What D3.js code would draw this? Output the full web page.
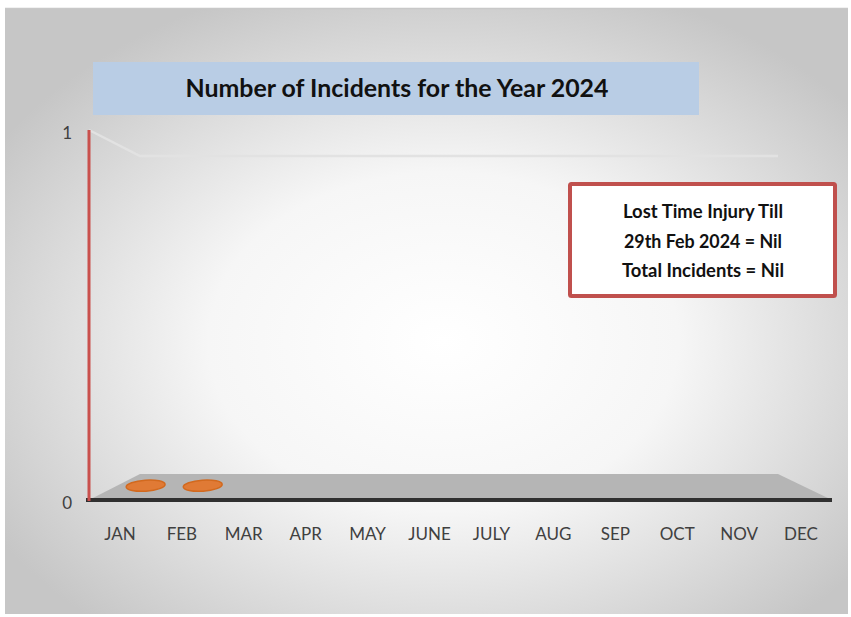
<!DOCTYPE html>
<html><head><meta charset="utf-8">
<script src="https://cdn.jsdelivr.net/npm/d3@7"></script>
<style>body{margin:0;background:#fff}svg{display:block}</style>
</head><body><svg id="c" width="851" height="617"></svg>
<script>
const months = ["JAN","FEB","MAR","APR","MAY","JUNE","JULY","AUG","SEP","OCT","NOV","DEC"];
const incidents = [0,0,null,null,null,null,null,null,null,null,null,null];
const yTicks = [0,1];
const titleText = "Number of Incidents for the Year 2024";
const noteLines = ["Lost Time Injury Till","29th Feb 2024 = Nil","Total Incidents = Nil"];

const svg = d3.select("#c");
const defs = svg.append("defs");
const rg = defs.append("radialGradient").attr("id","bg").attr("cx","0.52").attr("cy","0.55").attr("r","0.62");
rg.append("stop").attr("offset","0").attr("stop-color","#ffffff");
rg.append("stop").attr("offset","0.45").attr("stop-color","#f6f6f6");
rg.append("stop").attr("offset","1").attr("stop-color","#c6c6c6");

svg.append("rect").attr("x",5).attr("y",8).attr("width",843).attr("height",606).attr("fill","url(#bg)");
svg.append("line").attr("x1",5).attr("x2",848).attr("y1",8.5).attr("y2",8.5).attr("stroke","#c8c8c8").attr("stroke-width",1.5);

const x0 = 89, x1 = 832;
const x = d3.scaleBand().domain(months).range([x0,x1]);
const y = d3.scaleLinear().domain([0,1]).range([500,130]);
const dx = 51, dy = 26, dxr = 54;

// depth-projected band scale (mid-depth of the floor)
const t = 0.55;
const xMid = d3.scaleBand().domain(months).range([x0+dx*t, x1-dxr*t]);

// gridline at 1 (back wall)
svg.append("path")
  .attr("d", `M${x0},${y(1)}L${x0+dx},${y(1)+dy}L${x1-dxr},${y(1)+dy}`)
  .attr("fill","none").attr("stroke","#e2e2e2").attr("stroke-width",2.5);

// floor
svg.append("path")
  .attr("d", `M${x0},${y(0)}L${x0+dx},${y(0)-dy}L${x1-dxr},${y(0)-dy}L${x1},${y(0)}Z`)
  .attr("fill","#b5b5b5");

// front edge
svg.append("line").attr("x1",x0-3).attr("x2",x1).attr("y1",y(0)).attr("y2",y(0))
  .attr("stroke","#303030").attr("stroke-width",4);

// y axis (red)
svg.append("line").attr("x1",x0).attr("x2",x0).attr("y1",y(1)).attr("y2",y(0)+1)
  .attr("stroke","#c9504d").attr("stroke-width",3);

// y tick labels
svg.selectAll(".yl").data(yTicks).enter().append("text")
  .attr("x",72).attr("y",d=>y(d)+9).attr("text-anchor","end")
  .attr("font-family","Lato, 'Open Sans', sans-serif").attr("font-size",17).attr("fill","#404040")
  .text(d=>d);

// markers
svg.selectAll(".pt").data(months.map((m,i)=>({m,v:incidents[i]})).filter(d=>d.v!==null))
  .enter().append("ellipse")
  .attr("transform",d=>`translate(${xMid(d.m)+xMid.bandwidth()/2},${y(d.v)-dy*t}) rotate(-4)`)
  .attr("rx",19.5).attr("ry",5.5)
  .attr("fill","#e07a35").attr("stroke","#d2691e").attr("stroke-width",1.5);

// x labels
svg.selectAll(".xl").data(months).enter().append("text")
  .attr("x",d=>x(d)+x.bandwidth()/2).attr("y",540).attr("text-anchor","middle")
  .attr("font-family","Lato, 'Open Sans', sans-serif").attr("font-size",17).attr("fill","#404040")
  .text(d=>d);

// title
svg.append("rect").attr("x",93).attr("y",62).attr("width",606).attr("height",53).attr("fill","#b9cde5");
svg.append("text").attr("x",397).attr("y",97).attr("text-anchor","middle")
  .attr("font-family","Lato, sans-serif").attr("font-weight","bold").attr("font-size",24).attr("fill","#111")
  .attr("textLength",423).attr("lengthAdjust","spacingAndGlyphs")
  .text(titleText);

// note box
svg.append("rect").attr("x",570).attr("y",184).attr("width",265).attr("height",112)
  .attr("fill","#ffffff").attr("stroke","#c0504d").attr("stroke-width",4).attr("rx",1.5);
const widths = [160,158,162];
svg.selectAll(".nl").data(noteLines).enter().append("text")
  .attr("x",703).attr("y",(d,i)=>218+i*29.5).attr("text-anchor","middle")
  .attr("font-family","Lato, sans-serif").attr("font-weight","bold").attr("font-size",18).attr("fill","#111")
  .attr("textLength",(d,i)=>widths[i]).attr("lengthAdjust","spacingAndGlyphs")
  .text(d=>d);
</script></body></html>
